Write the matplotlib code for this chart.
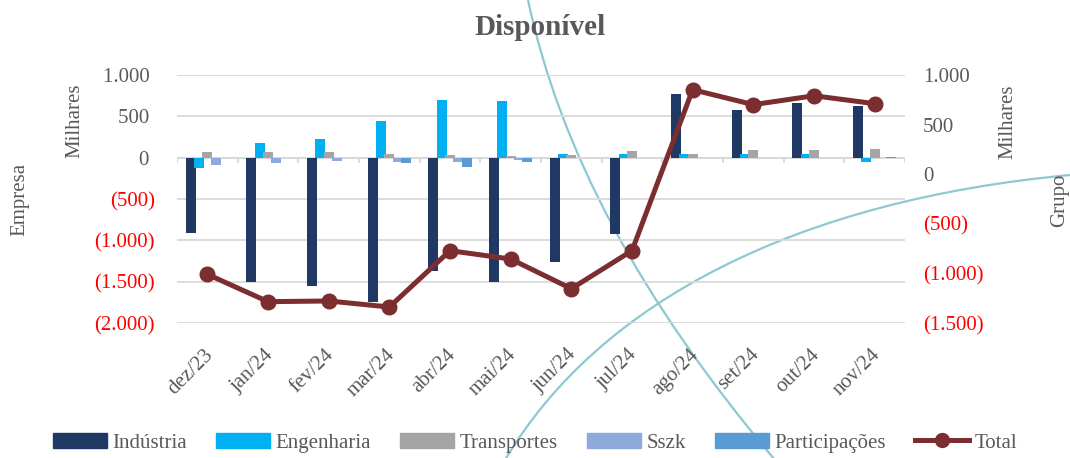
import numpy as np
import matplotlib
matplotlib.use('Agg')
import matplotlib.pyplot as plt
import matplotlib.transforms as mtransforms
from matplotlib.path import Path
from matplotlib.patches import PathPatch, Patch
from matplotlib.lines import Line2D
from matplotlib.ticker import FixedLocator

# ---- data (thousands) ----
months = ['dez/23', 'jan/24', 'fev/24', 'mar/24', 'abr/24', 'mai/24',
          'jun/24', 'jul/24', 'ago/24', 'set/24', 'out/24', 'nov/24']
industria = [-915, -1508, -1556, -1749, -1367, -1504, -1266, -919, 767, 573, 665, 622]
engenharia = [-121, 182, 222, 444, 702, 690, 41, 41, 41, 41, 45, -52]
transportes = [65, 69, 65, 41, 29, 20, 36, 77, 45, 93, 89, 105]
sszk = [-88, -60, -40, -48, -56, -28, 0, 0, 0, 0, 0, 0]
participacoes = [0, 0, 0, -60, -116, -56, 0, 0, 0, 0, 0, 12]
total = [-1009, -1285, -1278, -1339, -771, -855, -1154, -771, 852, 701, 791, 711]

series_names = ['Indústria', 'Engenharia', 'Transportes', 'Sszk', 'Participações']
series_colors = ['#1F3864', '#00B0F0', '#A5A5A5', '#8EA9DB', '#5B9BD5']
total_color = '#7B2D2F'
grid_color = '#D9D9D9'
text_color = '#595959'
neg_color = '#FF0000'

plt.rcParams['font.family'] = ['Liberation Serif', 'DejaVu Serif']

W, H = 1070, 458
fig = plt.figure(figsize=(W / 100, H / 100), dpi=100)


def px(x, y):
    return x / W, 1 - y / H


# decorative background arcs
bg = fig.add_axes([0, 0, 1, 1], zorder=0)
bg.set_xlim(0, W)
bg.set_ylim(H, 0)
bg.axis('off')
arc_color = '#8CC9D3'
for verts in ([(528, 0), (560, 150), (640, 300), (775, 460)],
              [(505, 460), (600, 300), (800, 200), (1070, 175)]):
    path = Path(verts, [Path.MOVETO, Path.CURVE4, Path.CURVE4, Path.CURVE4])
    bg.add_patch(PathPatch(path, facecolor='none', edgecolor=arc_color, lw=1.6))

left, right, top, bottom = 177, 905, 75, 323
ax = fig.add_axes([left / W, 1 - bottom / H, (right - left) / W, (bottom - top) / H])
ax.set_zorder(1)
ax.patch.set_visible(False)

x = np.arange(len(months))
step, width = 0.137, 0.165
for k, (vals, col) in enumerate(zip([industria, engenharia, transportes, sszk, participacoes],
                                    series_colors)):
    ax.bar(x + (k - 2) * step, vals, width=width, color=col, zorder=3)

ax.set_xlim(-0.5, len(months) - 0.5)
ax.set_ylim(-2000, 1000)
left_ticks = np.arange(-2000, 1001, 500)
ax.yaxis.set_major_locator(FixedLocator(left_ticks))
ax.grid(axis='y', color=grid_color, lw=1.3, zorder=0)
ax.axhline(0, color=grid_color, lw=1.5, zorder=2)
ax.vlines(np.arange(len(months) + 1) - 0.5, -60, 0, color=grid_color, lw=1.3, zorder=2)
for s in ax.spines.values():
    s.set_visible(False)


def fmt(v, pad=True):
    s = f'{abs(int(v)):,}'.replace(',', '.')
    if v < 0:
        return f'({s})'
    return s + (' ' if pad else '')


ax.set_yticklabels([fmt(v) for v in left_ticks])
for lab, v in zip(ax.get_yticklabels(), left_ticks):
    lab.set_color(neg_color if v < 0 else text_color)
ax.tick_params(axis='y', length=0, pad=16, labelsize=15)

ax.set_xticks(x)
ax.set_xticklabels(months, rotation=45, ha='right', rotation_mode='anchor')
ax.tick_params(axis='x', length=0, pad=16, labelsize=15, labelcolor=text_color)
shift = mtransforms.ScaledTranslation(-4 / 100, 0, fig.dpi_scale_trans)
for lab in ax.get_xticklabels():
    lab.set_transform(lab.get_transform() + shift)

ax2 = ax.twinx()
ax2.set_zorder(2)
ax2.set_ylim(-1500, 1000)
right_ticks = np.arange(-1500, 1001, 500)
ax2.yaxis.set_major_locator(FixedLocator(right_ticks))
ax2.set_yticklabels([fmt(v, pad=False) for v in right_ticks])
for lab, v in zip(ax2.get_yticklabels(), right_ticks):
    lab.set_color(neg_color if v < 0 else text_color)
ax2.tick_params(axis='y', length=0, pad=13, labelsize=15)
for s in ax2.spines.values():
    s.set_visible(False)
ax2.plot(x, total, color=total_color, lw=3.6, marker='o', markersize=10.5, zorder=5)

# titles and axis labels
fig.text(*px(540, 35), 'Disponível', ha='center', va='baseline', fontsize=21,
         fontweight='bold', color=text_color)
fig.text(*px(75, 83), 'Milhares', rotation=90, ha='center', va='top', fontsize=15, color=text_color)
fig.text(*px(20, 199), 'Empresa', rotation=90, ha='center', va='center', fontsize=15, color=text_color)
fig.text(*px(1008, 85), 'Milhares', rotation=90, ha='center', va='top', fontsize=15, color=text_color)
fig.text(*px(1060, 200), 'Grupo', rotation=90, ha='center', va='center', fontsize=15, color=text_color)

handles = [Patch(color=c) for c in series_colors]
handles.append(Line2D([], [], color=total_color, lw=3.6, marker='o', markersize=10))
fig.legend(handles, series_names + ['Total'], loc='center', bbox_to_anchor=px(535, 443),
           ncol=6, frameon=False, fontsize=15, handlelength=2.6, handleheight=0.7,
           handletextpad=0.25, columnspacing=1.4, labelcolor=text_color)

fig.savefig('out.png', dpi=100)
